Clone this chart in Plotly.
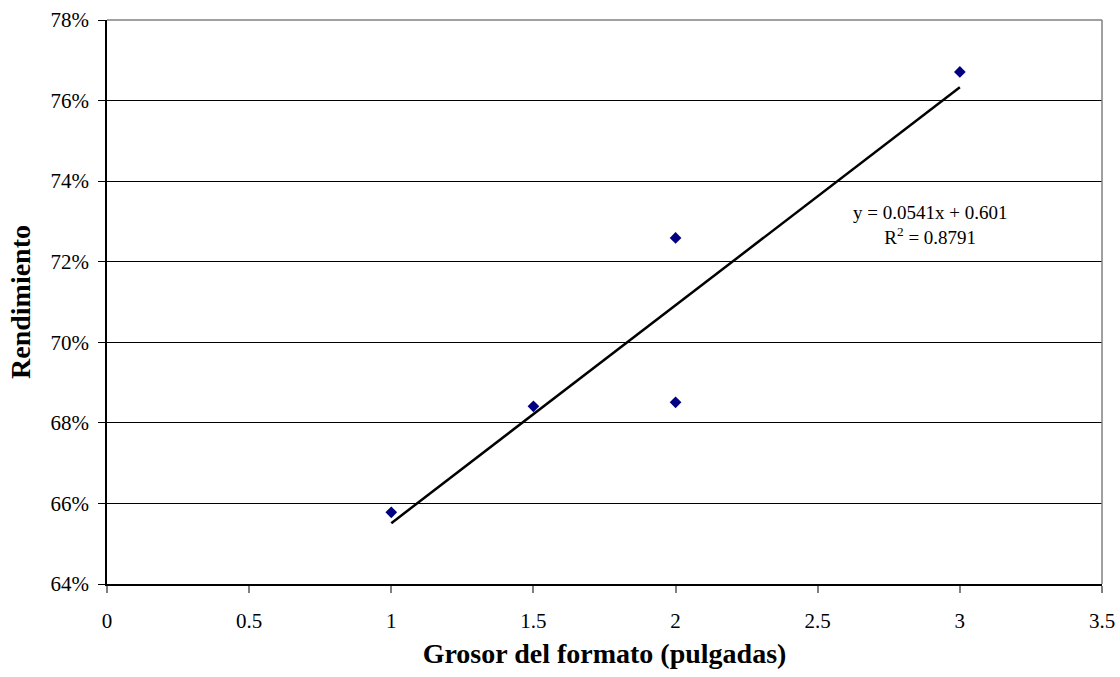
import plotly.graph_objects as go

# Measured data: format thickness (inches) vs. yield
grosor = [1.0, 1.5, 2.0, 2.0, 3.0]
rendimiento = [0.6578, 0.6841, 0.7259, 0.6851, 0.7671]

# Linear trend coefficients as reported on the chart
pendiente = 0.0541
intercepto = 0.601
r2 = 0.8791
tend_x = [min(grosor), max(grosor)]
tend_y = [pendiente * x + intercepto for x in tend_x]

y_ticks = [0.64, 0.66, 0.68, 0.70, 0.72, 0.74, 0.76, 0.78]
x_ticks = [0, 0.5, 1, 1.5, 2, 2.5, 3, 3.5]

font_fam = "Liberation Serif, Times New Roman, serif"

fig = go.Figure()
fig.add_trace(go.Scatter(
    x=grosor, y=rendimiento, mode="markers",
    marker=dict(symbol="diamond", size=9, color="#000080"),
    showlegend=False, hoverinfo="x+y",
))
fig.add_trace(go.Scatter(
    x=tend_x, y=tend_y, mode="lines",
    line=dict(color="black", width=2.5),
    showlegend=False, hoverinfo="skip",
))

fig.update_layout(
    width=1120, height=677,
    margin=dict(l=107, r=18, t=20, b=93),
    paper_bgcolor="white", plot_bgcolor="white",
    font=dict(family=font_fam, size=21, color="black"),
    xaxis=dict(
        range=[0, 3.5], tickvals=x_ticks,
        ticktext=[f"{v:g}" for v in x_ticks],
        tickfont=dict(size=21, family=font_fam),
        showgrid=False, zeroline=False, automargin=False,
        showline=True, linecolor="black", linewidth=1.5,
        ticks="outside", ticklen=7, tickcolor="#808080", tickwidth=1.5,
        ticklabelstandoff=10,
        title=dict(text="<b>Grosor del formato (pulgadas)</b>",
                   font=dict(size=28, family=font_fam), standoff=11),
    ),
    yaxis=dict(
        range=[0.64, 0.78], tickvals=y_ticks, tickformat=".0%",
        tickfont=dict(size=21, family=font_fam),
        showgrid=True, gridcolor="black", gridwidth=1,
        zeroline=False, automargin=False,
        showline=True, linecolor="black", linewidth=1.5,
        ticks="outside", ticklen=7, tickcolor="black", tickwidth=1,
        ticklabelstandoff=5,
        title=dict(text="<b>Rendimiento</b>",
                   font=dict(size=28, family=font_fam), standoff=12),
    ),
    shapes=[
        # top and right frame edges in gray
        dict(type="line", xref="paper", yref="paper", x0=0, x1=1, y0=1, y1=1,
             line=dict(color="#808080", width=1.5), layer="above"),
        dict(type="line", xref="paper", yref="paper", x0=1, x1=1, y0=0, y1=1,
             line=dict(color="#808080", width=1.5), layer="above"),
    ],
    annotations=[
        dict(x=2.895, y=0.7290, xref="x", yref="y",
             text=f"y = {pendiente}x + {intercepto}<br>R<sup>2</sup> = {r2}",
             showarrow=False, align="center",
             font=dict(size=19, family=font_fam, color="black")),
    ],
)

fig.write_html("out.html")
